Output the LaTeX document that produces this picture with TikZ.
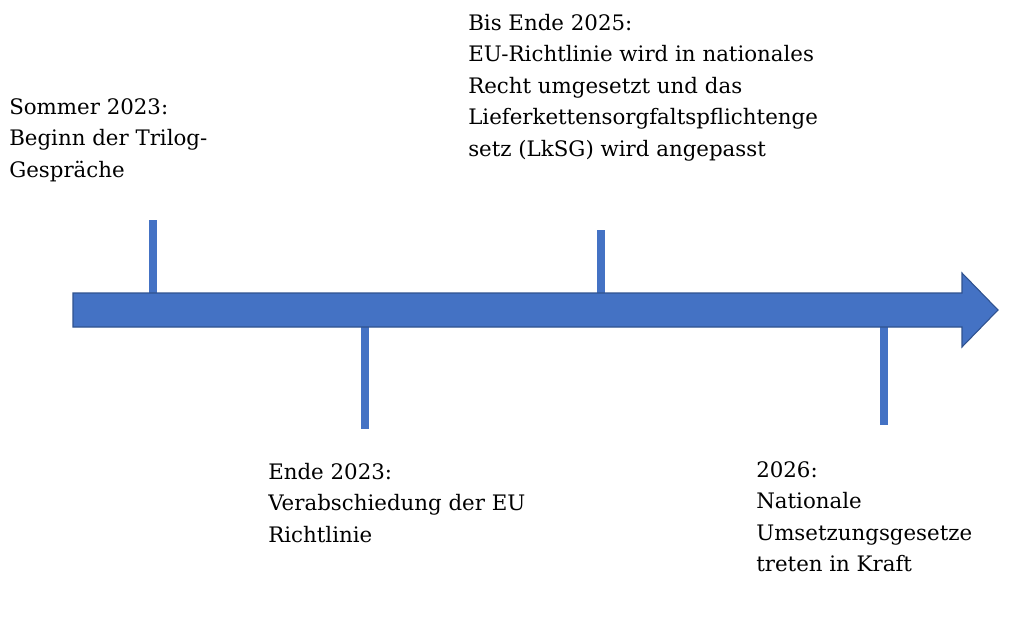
\documentclass[tikz,border=0pt]{standalone}
\usepackage{fontspec}
\setmainfont{DejaVu Serif}
\usepackage{xcolor}
\usepackage{tikz}
\usetikzlibrary{positioning,calc}

\definecolor{tlblue}{HTML}{4472C4}
\definecolor{tledge}{HTML}{2F528F}

\begin{document}
\begin{tikzpicture}[
    x=0.75pt, y=-0.75pt,
    every node/.style={anchor=north west, inner sep=0pt, align=left,
        font=\fontsize{16pt}{23.6pt}\selectfont},
    tick/.style={draw=tlblue, line width=6pt},
    timeline/.style={fill=tlblue, draw=tledge, line width=0.8pt, line join=miter}
]
\useasboundingbox (0,0) rectangle (1012,625);

% tick ends
\coordinate (s1) at (153,293);  \coordinate (e1) at (153,220);
\coordinate (s2) at (365,327);  \coordinate (e2) at (365,429);
\coordinate (s3) at (601,293);  \coordinate (e3) at (601,230);
\coordinate (s4) at (884,327);  \coordinate (e4) at (884,425);

\foreach \i in {1,...,4}
    \draw[tick] (s\i) -- (e\i);

% timeline arrow
\draw[timeline] (73,293) -- (962,293) -- (962,273) -- (998,310)
    -- (962,347) -- (962,327) -- (73,327) -- cycle;

% labels
\node (sommer) at (9,98) {Sommer 2023:\\Beginn der Trilog-\\Gespräche};
\node (bisende) at (468,14) {Bis Ende 2025:\\EU-Richtlinie wird in nationales\\Recht umgesetzt und das\\Lieferkettensorgfaltspflichtenge\\setz (LkSG) wird angepasst};
\node (ende) at (268,463) {Ende 2023:\\Verabschiedung der EU\\Richtlinie};
\node (kraft) at (756,461) {2026:\\Nationale\\Umsetzungsgesetze\\treten in Kraft};
\end{tikzpicture}
\end{document}
